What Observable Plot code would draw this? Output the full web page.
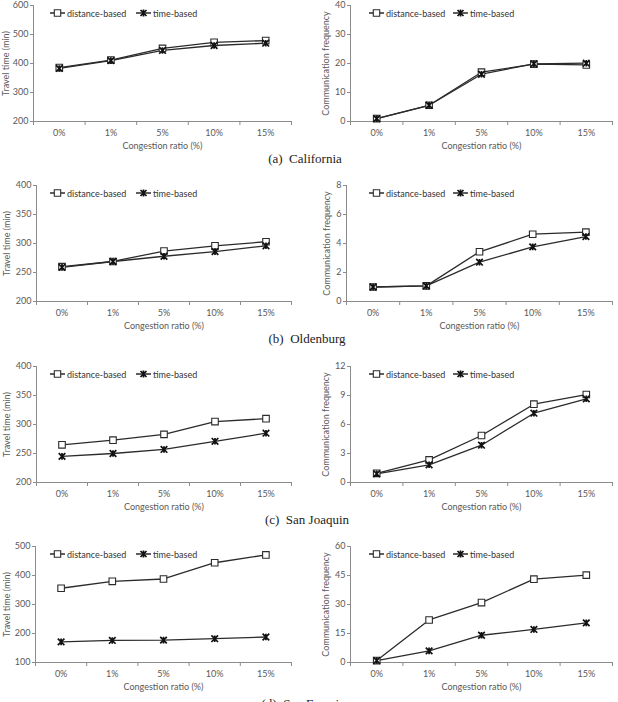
<!DOCTYPE html>
<html>
<head>
<meta charset="utf-8">
<script src="https://cdn.jsdelivr.net/npm/d3@7"></script>
<script src="https://cdn.jsdelivr.net/npm/@observablehq/plot@0.6"></script>
<style>
  body { margin: 0; background: #fff; }
  #fig { position: relative; width: 618px; height: 702px; overflow: hidden; font-family: Lato, sans-serif; }
  .panel { position: absolute; }
  .legend-item { position: absolute; display: flex; align-items: center; font-size: 9px; color: #333; white-space: nowrap; transform: translateY(-50%); }
  .legend-item svg { margin-right: 2px; }
  .caption { position: absolute; font-family: "Liberation Serif", serif; font-size: 13px; color: #222; white-space: pre; transform: translate(-50%, -50%); }
</style>
</head>
<body>
<div id="fig"></div>
<script>
// Congestion ratios on the x axis
const ratios = ["0%", "1%", "5%", "10%", "15%"];
const seriesNames = ["distance-based", "time-based"];
const regions = ["(a)  California", "(b)  Oldenburg", "(c)  San Joaquin", "(d)  San Francisco"];
const xTitle = "Congestion ratio (%)";
const travelTitle = "Travel time (min)";
const commTitle = "Communication frequency";

// California
const caTravelDist = [386, 412, 452, 473, 479];
const caTravelTime = [383, 410, 445, 462, 470];
const caTravelTicks = [200, 300, 400, 500, 600];
const caCommDist = [1, 5.6, 17, 19.8, 19.5];
const caCommTime = [1, 5.6, 16.3, 19.9, 20.1];
const caCommTicks = [0, 10, 20, 30, 40];

// Oldenburg
const olTravelDist = [260, 269, 287, 296, 303];
const olTravelTime = [259, 269, 278, 286, 296];
const olTravelTicks = [200, 250, 300, 350, 400];
const olCommDist = [1, 1.08, 3.43, 4.64, 4.78];
const olCommTime = [1, 1.08, 2.71, 3.77, 4.48];
const olCommTicks = [0, 2, 4, 6, 8];

// San Joaquin
const sjTravelDist = [265, 273, 283, 305, 310];
const sjTravelTime = [245, 250, 257, 271, 285];
const sjTravelTicks = [200, 250, 300, 350, 400];
const sjCommDist = [0.95, 2.34, 4.86, 8.1, 9.1];
const sjCommTime = [0.9, 1.83, 3.86, 7.17, 8.66];
const sjCommTicks = [0, 3, 6, 9, 12];

// San Francisco
const sfTravelDist = [356, 380, 388, 444, 471];
const sfTravelTime = [171, 176, 177, 182, 188];
const sfTravelTicks = [100, 200, 300, 400, 500];
const sfCommDist = [1, 22, 31, 43.1, 45.2];
const sfCommTime = [1, 6, 14.1, 17.1, 20.5];
const sfCommTicks = [0, 15, 30, 45, 60];

const axisGray = "#8c8c8c";
const labelGray = "#595959";
const lineColor = "#2b2b2b";

// Excel-style star marker: an X crossed by a vertical bar
const star = {
  draw(context, size) {
    const r = Math.sqrt(size / Math.PI);
    context.moveTo(-r, -r); context.lineTo(r, r);
    context.moveTo(-r, r); context.lineTo(r, -r);
    context.moveTo(0, -r); context.lineTo(0, r);
  }
};

function lineChart({dist, time, ticks, yTitle, width, marginLeft, marginRight, titleX}) {
  const distRows = dist.map((v, i) => ({i, v, series: seriesNames[0]}));
  const timeRows = time.map((v, i) => ({i, v, series: seriesNames[1]}));
  const bounds = d3.range(ratios.length + 1).map(k => k - 0.5);
  return Plot.plot({
    width,
    height: 155,
    marginTop: 5,
    marginBottom: 34,
    marginLeft,
    marginRight,
    style: {fontFamily: "Lato, sans-serif", fontSize: "9px", background: "transparent", overflow: "visible"},
    x: {type: "linear", domain: [-0.5, ratios.length - 0.5]},
    y: {domain: [ticks[0], ticks[ticks.length - 1]]},
    marks: [
      Plot.ruleY([ticks[0]], {stroke: axisGray}),
      Plot.ruleX([-0.5], {stroke: axisGray}),
      Plot.axisY({ticks, tickSize: 3, tickPadding: 2, stroke: axisGray, fill: labelGray, label: null}),
      Plot.axisX({ticks: bounds, tickSize: 4, tickFormat: () => "", stroke: axisGray, label: null}),
      Plot.axisX({ticks: d3.range(ratios.length), tickSize: 0, tickPadding: 8, tickFormat: i => ratios[i], fill: labelGray, label: null}),
      Plot.text([xTitle], {frameAnchor: "bottom", dy: 25, fill: labelGray, lineAnchor: "middle"}),
      Plot.text([yTitle], {frameAnchor: "left", rotate: -90, textAnchor: "middle", dx: titleX - marginLeft, fill: labelGray, lineAnchor: "middle"}),
      Plot.line(distRows, {x: "i", y: "v", stroke: lineColor, strokeWidth: 1.3}),
      Plot.line(timeRows, {x: "i", y: "v", stroke: lineColor, strokeWidth: 1.3}),
      Plot.dot(distRows, {x: "i", y: "v", symbol: "square", r: 3.7, fill: "white", stroke: lineColor, strokeWidth: 1.1}),
      Plot.dot(timeRows, {x: "i", y: "v", symbol: star, r: 3.3, stroke: "#111", strokeWidth: 1.7})
    ]
  });
}

function legendSymbol(kind) {
  const ns = "http://www.w3.org/2000/svg";
  const svg = document.createElementNS(ns, "svg");
  svg.setAttribute("width", 15);
  svg.setAttribute("height", 9);
  const line = document.createElementNS(ns, "line");
  line.setAttribute("x1", 0); line.setAttribute("x2", 15);
  line.setAttribute("y1", 4.5); line.setAttribute("y2", 4.5);
  line.setAttribute("stroke", lineColor); line.setAttribute("stroke-width", 1.3);
  svg.appendChild(line);
  const mark = document.createElementNS(ns, "path");
  if (kind === 0) {
    mark.setAttribute("d", "M4.3,1.3h6.4v6.4h-6.4z");
    mark.setAttribute("fill", "white");
    mark.setAttribute("stroke", lineColor);
    mark.setAttribute("stroke-width", 1.1);
  } else {
    mark.setAttribute("d", "M4.5,1.5L10.5,7.5M4.5,7.5L10.5,1.5M7.5,1L7.5,8");
    mark.setAttribute("stroke", "#111");
    mark.setAttribute("stroke-width", 1.7);
  }
  svg.appendChild(mark);
  return svg;
}

const fig = document.getElementById("fig");
const rowTops = [0, 180, 361, 541];
const captionPos = [[305, 159], [307, 339], [307, 520], [309, 704]];

const panels = [
  // row, column, data
  [0, 0, {dist: caTravelDist, time: caTravelTime, ticks: caTravelTicks, yTitle: travelTitle, marginLeft: 33, titleX: 5.5}],
  [0, 1, {dist: caCommDist, time: caCommTime, ticks: caCommTicks, yTitle: commTitle, marginLeft: 50, titleX: 25.5}],
  [1, 0, {dist: olTravelDist, time: olTravelTime, ticks: olTravelTicks, yTitle: travelTitle, marginLeft: 36, titleX: 7}],
  [1, 1, {dist: olCommDist, time: olCommTime, ticks: olCommTicks, yTitle: commTitle, marginLeft: 46, titleX: 26.5}],
  [2, 0, {dist: sjTravelDist, time: sjTravelTime, ticks: sjTravelTicks, yTitle: travelTitle, marginLeft: 36, titleX: 7}],
  [2, 1, {dist: sjCommDist, time: sjCommTime, ticks: sjCommTicks, yTitle: commTitle, marginLeft: 50, titleX: 26}],
  [3, 0, {dist: sfTravelDist, time: sfTravelTime, ticks: sfTravelTicks, yTitle: travelTitle, marginLeft: 35, titleX: 7}],
  [3, 1, {dist: sfCommDist, time: sfCommTime, ticks: sfCommTicks, yTitle: commTitle, marginLeft: 50, titleX: 26}]
];

for (const [row, col, spec] of panels) {
  const left = col === 0 ? 0 : 300;
  const width = col === 0 ? 300 : 318;
  const marginRight = col === 0 ? 9 : 6;
  const div = document.createElement("div");
  div.className = "panel";
  div.style.left = left + "px";
  div.style.top = rowTops[row] + "px";
  div.style.width = width + "px";
  div.style.height = "155px";
  div.appendChild(lineChart({...spec, width, marginRight}));
  // legend inside the plotting area
  const itemX = col === 0 ? [50, 136] : [69, 153];
  seriesNames.forEach((name, k) => {
    const item = document.createElement("div");
    item.className = "legend-item";
    item.style.left = itemX[k] + "px";
    item.style.top = "13px";
    item.appendChild(legendSymbol(k));
    const span = document.createElement("span");
    span.textContent = name;
    item.appendChild(span);
    div.appendChild(item);
  });
  fig.appendChild(div);
}

regions.forEach((text, k) => {
  const cap = document.createElement("div");
  cap.className = "caption";
  cap.textContent = text;
  cap.style.left = captionPos[k][0] + "px";
  cap.style.top = captionPos[k][1] + "px";
  fig.appendChild(cap);
});
</script>
</body>
</html>
